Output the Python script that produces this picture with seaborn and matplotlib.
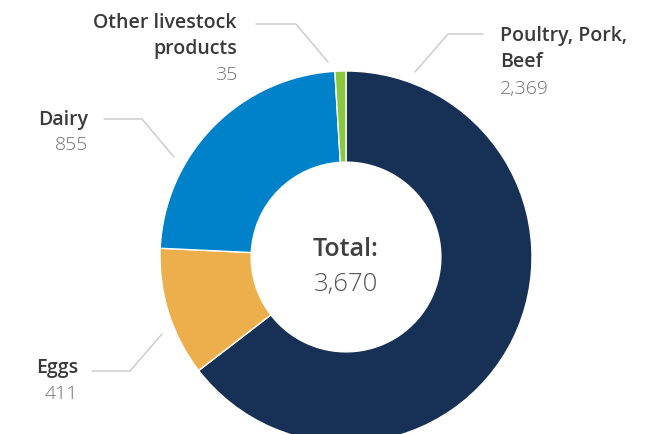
import matplotlib as mpl
import matplotlib.pyplot as plt
import seaborn as sns

# Chart data.
categories = ['Poultry, Pork,\nBeef', 'Eggs', 'Dairy', 'Other livestock\nproducts']
values = [2369, 411, 855, 35]
value_labels = ['2,369', '411', '855', '35']
total_label = '3,670'
colors = ['#173156', '#ecaf4b', '#0082ca', '#8dc63f']

sns.set_style("white")
plt.rcParams['font.family'] = ['Open Sans', 'DejaVu Sans']

# Pixel layout of the reference image (649x434).
W, H = 649, 434
CX, CY, R = 346, 257, 186


def px(x, y):
    """Convert reference pixel coordinates to data units."""
    return (x - CX) / R, (CY - y) / R


fig = plt.figure(figsize=(W / 100, H / 100), dpi=100)
ax = fig.add_axes([0, 0, 1, 1])
ax.pie(values, colors=colors, startangle=90, counterclock=False,
       radius=1, wedgeprops=dict(width=0.49, edgecolor='white', linewidth=1))
ax.set_aspect('auto')
ax.set_xlim(-CX / R, (W - CX) / R)
ax.set_ylim(-(H - CY) / R, CY / R)
ax.axis('off')

# Centre text.
ax.text(*px(CX, 250), 'Total:', ha='center', va='center', fontsize=18,
        fontweight='semibold', color='#404040')
ax.text(*px(CX, 285), total_label, ha='center', va='center', fontsize=18.5,
        fontweight='light', color='#555555')

# Labels: (text anchor px, ha, value y px, leader line px points)
layout = [
    ((500, 49), 'left', 89, [(483, 34), (448, 34), (415, 72)]),
    ((78, 368), 'right', 394, [(92, 371), (130, 371), (162, 334)]),
    ((88, 120), 'right', 145, [(104, 119), (142, 119), (174, 157)]),
    ((237, 36), 'right', 75, [(256, 24), (296, 24), (328, 62)]),
]
for cat, val, (pos, ha, vy, pts) in zip(categories, value_labels, layout):
    ax.text(*px(*pos), cat, ha=ha, va='center', fontsize=14,
            fontweight='semibold', color='#3a3a3a', linespacing=1.45)
    ax.text(*px(pos[0], vy), val, ha=ha, va='center', fontsize=14,
            fontweight='light', color='#707070')
    xs, ys = zip(*[px(x, y) for x, y in pts])
    ax.plot(xs, ys, color='#c8c8c8', lw=1)

fig.savefig('out.png', dpi=100)
